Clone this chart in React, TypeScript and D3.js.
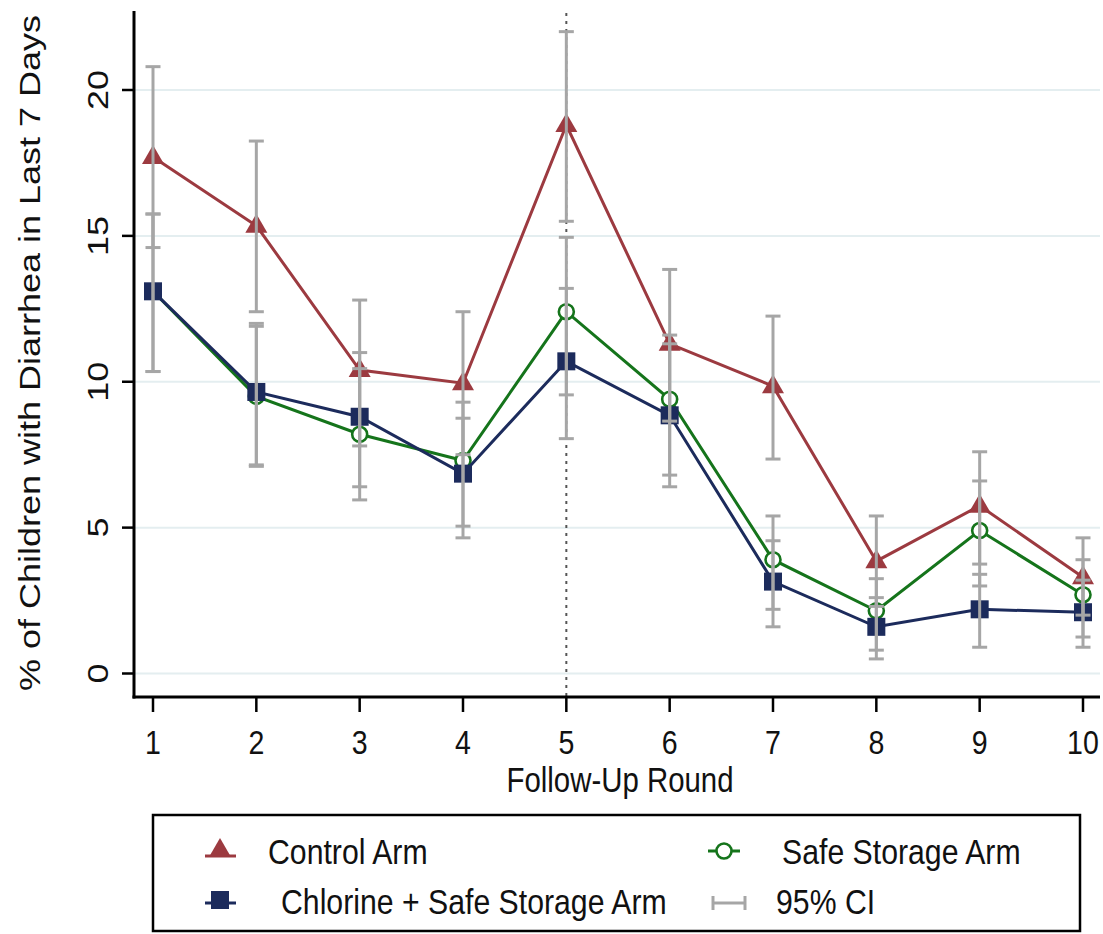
import React from 'react';
import * as d3 from 'd3';

// Follow-up rounds
const rounds = [1, 2, 3, 4, 5, 6, 7, 8, 9, 10];

// % of children with diarrhea, by arm
const controlArm = [17.7, 15.35, 10.4, 9.95, 18.8, 11.3, 9.85, 3.85, 5.75, 3.3];
const controlLow = [14.6, 12.4, 7.8, 7.5, 15.5, 8.65, 7.35, 2.3, 3.75, 2.0];
const controlHigh = [20.8, 18.25, 12.8, 12.4, 22.0, 13.85, 12.25, 5.4, 7.6, 4.65];

const chlorineArm = [13.1, 9.65, 8.8, 6.85, 10.7, 8.85, 3.15, 1.6, 2.2, 2.1];
const chlorineLow = [10.35, 7.15, 6.4, 4.65, 8.05, 6.4, 1.6, 0.5, 0.9, 0.9];
const chlorineHigh = [15.75, 12.0, 11.0, 8.75, 13.2, 11.3, 4.55, 2.6, 3.4, 3.2];

const storageArm = [13.1, 9.5, 8.2, 7.3, 12.4, 9.4, 3.9, 2.15, 4.9, 2.7];
const storageLow = [10.35, 7.1, 5.95, 5.05, 9.55, 6.8, 2.2, 0.8, 3.0, 1.25];
const storageHigh = [15.75, 11.9, 10.45, 9.3, 14.95, 11.6, 5.4, 3.25, 6.6, 3.9];

const yTicks = [0, 5, 10, 15, 20];
const markedRound = 5;

const RED = '#9c3a40';
const NAVY = '#1c2b5c';
const GREEN = '#15741b';
const GREY = '#a6a6a6';
const FONT = '"Liberation Sans", Arial, Helvetica, sans-serif';
const SX = 0.84; // text looks horizontally squeezed

const W = 1103;
const H = 934;
const plot = { left: 134, right: 1100, top: 11, bottom: 697 };

const x = d3.scaleLinear().domain([1, 10]).range([153, 1083]);
const y = d3.scaleLinear().domain([0, 20]).range([673.5, 90]);

const tri = 'M0,-12 L11,7 L-11,7 Z';

type Series = { name: string; vals: number[]; lo: number[]; hi: number[]; color: string; marker: string };

const series: Series[] = [
  { name: 'storage', vals: storageArm, lo: storageLow, hi: storageHigh, color: GREEN, marker: 'circle' },
  { name: 'chlorine', vals: chlorineArm, lo: chlorineLow, hi: chlorineHigh, color: NAVY, marker: 'square' },
  { name: 'control', vals: controlArm, lo: controlLow, hi: controlHigh, color: RED, marker: 'triangle' },
];

const Marker = ({ kind, cx, cy, color }: { kind: string; cx: number; cy: number; color: string }) => {
  if (kind === 'triangle') return <path d={tri} transform={`translate(${cx},${cy})`} fill={color} />;
  if (kind === 'square') return <rect x={cx - 9} y={cy - 9} width={18} height={18} fill={color} />;
  return <circle cx={cx} cy={cy} r={7.5} fill="white" stroke={color} strokeWidth={2.6} />;
};

const Txt = ({ x0, y0, anchor = 'start', size = 36, children }: any) => (
  <text transform={`translate(${x0},${y0}) scale(${SX},1)`} textAnchor={anchor} fontSize={size} fontFamily={FONT} fill="#111">
    {children}
  </text>
);

export default function App() {
  const line = (vals: number[]) =>
    d3.line<number>().x((_, i) => x(rounds[i])).y(v => y(v))(vals) || '';

  return (
    <svg width={W} height={H} style={{ position: 'absolute', left: 0, top: 0, background: 'white' }}>
      {/* grid */}
      {yTicks.map(t => (
        <line key={t} x1={plot.left} x2={plot.right} y1={y(t)} y2={y(t)} stroke="#e4eef0" strokeWidth={2} />
      ))}

      {/* vertical dotted reference line */}
      <line x1={x(markedRound)} x2={x(markedRound)} y1={plot.top + 2} y2={plot.bottom} stroke="#555" strokeWidth={2} strokeDasharray="3 5" />

      {/* series lines + markers */}
      {series.map(s => (
        <g key={s.name}>
          <path d={line(s.vals)} fill="none" stroke={s.color} strokeWidth={3} />
          {s.vals.map((v, i) => (
            <Marker key={i} kind={s.marker} cx={x(rounds[i])} cy={y(v)} color={s.color} />
          ))}
        </g>
      ))}

      {/* confidence intervals on top */}
      {series.map(s => (
        <g key={s.name + '-ci'} stroke={GREY} strokeWidth={3}>
          {s.vals.map((_, i) => {
            const cx = x(rounds[i]);
            return (
              <g key={i}>
                <line x1={cx} x2={cx} y1={y(s.lo[i])} y2={y(s.hi[i])} />
                <line x1={cx - 7.5} x2={cx + 7.5} y1={y(s.lo[i])} y2={y(s.lo[i])} />
                <line x1={cx - 7.5} x2={cx + 7.5} y1={y(s.hi[i])} y2={y(s.hi[i])} />
              </g>
            );
          })}
        </g>
      ))}

      {/* axes */}
      <line x1={plot.left} x2={plot.left} y1={plot.top} y2={plot.bottom + 1.5} stroke="#000" strokeWidth={3} />
      <line x1={plot.left - 1.5} x2={plot.right} y1={plot.bottom} y2={plot.bottom} stroke="#000" strokeWidth={3} />
      {yTicks.map(t => (
        <g key={t}>
          <line x1={plot.left - 12} x2={plot.left} y1={y(t)} y2={y(t)} stroke="#000" strokeWidth={2.5} />
          <text transform={`translate(108,${y(t)}) scale(${SX},1) rotate(-90)`} textAnchor="middle" fontSize={36} fontFamily={FONT} fill="#111">
            {t}
          </text>
        </g>
      ))}
      {rounds.map(r => (
        <g key={r}>
          <line x1={x(r)} x2={x(r)} y1={plot.bottom} y2={plot.bottom + 15} stroke="#000" strokeWidth={2.5} />
          <Txt x0={x(r)} y0={754} anchor="middle" size={34}>{r}</Txt>
        </g>
      ))}
      <Txt x0={620} y0={792} anchor="middle" size={35}>Follow-Up Round</Txt>
      <text transform={`translate(40,353) scale(${SX},1) rotate(-90)`} textAnchor="middle" fontSize={36} fontFamily={FONT} fill="#111">
        % of Children with Diarrhea in Last 7 Days
      </text>

      {/* legend */}
      <rect x={153} y={815} width={927} height={116} fill="white" stroke="#000" strokeWidth={2.5} />
      <g>
        <line x1={205} x2={236} y1={856} y2={856} stroke={RED} strokeWidth={3} />
        <Marker kind="triangle" cx={220} cy={850} color={RED} />
        <Txt x0={268} y0={864}>Control Arm</Txt>

        <line x1={205} x2={236} y1={903} y2={903} stroke={NAVY} strokeWidth={3} />
        <Marker kind="square" cx={220} cy={900} color={NAVY} />
        <Txt x0={281} y0={914}>Chlorine + Safe Storage Arm</Txt>

        <line x1={708} x2={740} y1={851} y2={851} stroke={GREEN} strokeWidth={3} />
        <Marker kind="circle" cx={724} cy={851} color={GREEN} />
        <Txt x0={782} y0={864}>Safe Storage Arm</Txt>

        <g stroke={GREY} strokeWidth={3}>
          <line x1={713} x2={745} y1={903} y2={903} />
          <line x1={713} x2={713} y1={896} y2={910} />
          <line x1={745} x2={745} y1={896} y2={910} />
        </g>
        <Txt x0={776} y0={914}>95% CI</Txt>
      </g>
    </svg>
  );
}
